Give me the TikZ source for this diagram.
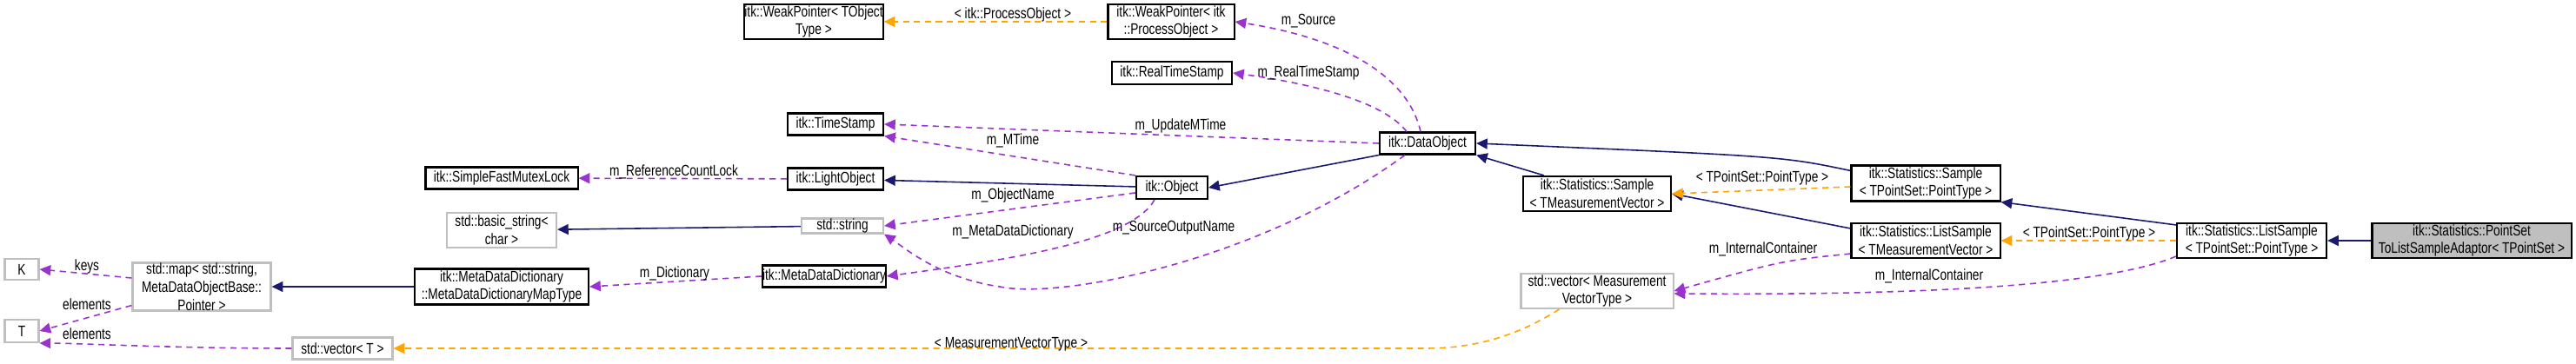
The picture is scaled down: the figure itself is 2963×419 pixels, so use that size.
\documentclass[tikz,border=0pt]{standalone}
\usepackage{fontspec}
\setmainfont{Liberation Sans}[FakeStretch=0.78]
\usetikzlibrary{arrows.meta, positioning, calc}
\definecolor{inhblue}{RGB}{25, 25, 112}
\definecolor{usepurple}{RGB}{154, 50, 205}
\definecolor{tmplorange}{RGB}{255, 165, 0}
\definecolor{extgray}{RGB}{191, 191, 191}
\tikzset{
  cls/.style={draw, line width=0.6pt, align=center, inner sep=0pt, font=\fontsize{5}{5.9}\selectfont},
  ext/.style={cls, draw=extgray},
  focus/.style={cls, fill=extgray},
  inh/.style={-{Triangle[length=3.6pt,width=3.4pt]}, inhblue, line width=0.45pt},
  use/.style={-{Triangle[length=3.6pt,width=3.4pt]}, usepurple, line width=0.45pt, dash pattern=on 2pt off 1.6pt},
  tmpl/.style={-{Triangle[length=3.6pt,width=3.4pt]}, tmplorange, line width=0.45pt, dash pattern=on 2pt off 1.6pt},
  lbl/.style={font=\fontsize{5}{5.9}\selectfont, inner sep=0pt}
}
\begin{document}
\begin{tikzpicture}[x=0.01cm, y=-0.01cm]
  \useasboundingbox (0,0) rectangle (2963,419);

  % classes
  \node[cls, minimum width=1.28cm, minimum height=0.4cm] (wpobj) at (936,25) {itk::WeakPointer< TObject\\Type >};
  \node[cls, minimum width=1.45cm, minimum height=0.4cm] (wpproc) at (1347,25) {itk::WeakPointer< itk\\::ProcessObject >};
  \node[cls, minimum width=1.38cm, minimum height=0.26cm] (rts) at (1348,84) {itk::RealTimeStamp};
  \node[cls, minimum width=1.1cm, minimum height=0.25cm] (ts) at (961,143) {itk::TimeStamp};
  \node[cls, minimum width=1.75cm, minimum height=0.25cm] (mutex) at (577,205) {itk::SimpleFastMutexLock};
  \node[cls, minimum width=1.1cm, minimum height=0.25cm] (light) at (961,206) {itk::LightObject};
  \node[cls, minimum width=0.82cm, minimum height=0.26cm] (obj) at (1348,216) {itk::Object};
  \node[cls, minimum width=1.1cm, minimum height=0.25cm] (dobj) at (1642,165) {itk::DataObject};
  \node[ext, minimum width=1.26cm, minimum height=0.4cm] (bstr) at (577,265) {std::basic\_string<\\char >};
  \node[ext, minimum width=0.94cm, minimum height=0.17cm] (str) at (969,260) {std::string};
  \node[ext, minimum width=1.59cm, minimum height=0.55cm] (map) at (232,330) {std::map< std::string,\\MetaDataObjectBase::\\Pointer >};
  \node[ext, minimum width=0.39cm, minimum height=0.24cm] (K) at (25,310) {K};
  \node[ext, minimum width=0.39cm, minimum height=0.26cm] (T) at (25,381) {T};
  \node[cls, minimum width=2.0cm, minimum height=0.41cm] (mapt) at (577,330) {itk::MetaDataDictionary\\::MetaDataDictionaryMapType};
  \node[cls, minimum width=1.35cm, minimum height=0.25cm] (mdd) at (948,318) {itk::MetaDataDictionary};
  \node[ext, minimum width=1.15cm, minimum height=0.25cm] (vecT) at (394,401) {std::vector< T >};
  \node[cls, minimum width=1.7cm, minimum height=0.4cm] (smv) at (1837,223) {itk::Statistics::Sample\\< TMeasurementVector >};
  \node[ext, minimum width=1.75cm, minimum height=0.4cm] (vmv) at (1837,335) {std::vector< Measurement\\VectorType >};
  \node[cls, minimum width=1.71cm, minimum height=0.41cm] (spt) at (2215,211) {itk::Statistics::Sample\\< TPointSet::PointType >};
  \node[cls, minimum width=1.71cm, minimum height=0.4cm] (lsmv) at (2215,277) {itk::Statistics::ListSample\\< TMeasurementVector >};
  \node[cls, minimum width=1.72cm, minimum height=0.4cm] (lspt) at (2590,277) {itk::Statistics::ListSample\\< TPointSet::PointType >};
  \node[focus, minimum width=2.29cm, minimum height=0.4cm] (adapt) at (2843,277) {itk::Statistics::PointSet\\ToListSampleAdaptor< TPointSet >};

  % inheritance
  \draw[inh] (obj) -- (light);
  \draw[inh] (dobj.south west) -- (obj.east);
  \draw[inh] (str) -- (bstr);
  \draw[inh] (mapt) -- (map);
  \draw[inh] (smv.north west) ++(25,0) -- (dobj.south east);
  \draw[inh] (spt.north west) ++(0,7) .. controls (2050,180) .. (dobj.east);
  \draw[inh] (lsmv.north west) ++(0,7) -- (smv.east);
  \draw[inh] (lspt.north west) ++(0,3) -- (spt.south east);
  \draw[inh] (adapt) -- (lspt);

  % template instances
  \draw[tmpl] (wpproc) -- (wpobj);
  \draw[tmpl] (spt.west) ++(0,4) -- (smv.east);
  \draw[tmpl] (lspt) -- (lsmv);
  \draw[tmpl] (vmv.south west) ++(45,0) .. controls (1740,390) and (1690,401) .. (1640,401) -- (vecT.east);

  % members
  \draw[use] (dobj.north) ++(-8,0) .. controls (1620,90) and (1550,45) .. (wpproc.east);
  \draw[use] (dobj.north west) ++(32,0) .. controls (1590,115) and (1500,95) .. (rts.east);
  \draw[use] (dobj.west) -- (ts.east);
  \draw[use] (obj.north west) -- (ts.south east);
  \draw[use] (light) -- (mutex);
  \draw[use] (obj.west) ++(0,6) -- (str.east);
  \draw[use] (obj.south west) ++(22,0) .. controls (1300,280) and (1150,300) .. (mdd.east);
  \draw[use] (dobj.south west) ++(30,0) .. controls (1450,300) and (1220,345) .. (1150,330)
    .. controls (1080,320) and (1040,285) .. (str.south east);
  \draw[use] (mdd.west) -- (mapt.east);
  \draw[use] (map.west) ++(0,-10) -- (K.east);
  \draw[use] (map.south west) ++(0,-7) -- (T.east);
  \draw[use] (vecT.west) .. controls (200,401) and (90,395) .. (T.south east);
  \draw[use] (lsmv.south west) ++(0,-6) .. controls (2050,300) .. (vmv.east);
  \draw[use] (lspt.south west) ++(0,-3) .. controls (2420,330) and (2200,340) .. ($(vmv.east)+(0,3)$);

  % edge labels
  \node[lbl] (l1) at (1165,17) {< itk::ProcessObject >};
  \node[lbl] (l2) at (1505,24) {m\_Source};
  \node[lbl] (l3) at (1505,84) {m\_RealTimeStamp};
  \node[lbl] (l4) at (1358,145) {m\_UpdateMTime};
  \node[lbl] (l5) at (1165,162) {m\_MTime};
  \node[lbl] (l6) at (775,198) {m\_ReferenceCountLock};
  \node[lbl] (l7) at (1165,225) {m\_ObjectName};
  \node[lbl] (l8) at (1165,267) {m\_MetaDataDictionary};
  \node[lbl] (l9) at (1350,262) {m\_SourceOutputName};
  \node[lbl] (l10) at (776,315) {m\_Dictionary};
  \node[lbl] (l11) at (100,307) {keys};
  \node[lbl] (l12) at (100,350) {elements};
  \node[lbl] (l13) at (100,384) {elements};
  \node[lbl] (l14) at (1163,396) {< MeasurementVectorType >};
  \node[lbl] (l15) at (2027,205) {< TPointSet::PointType >};
  \node[lbl] (l16) at (2028,287) {m\_InternalContainer};
  \node[lbl] (l17) at (2403,269) {< TPointSet::PointType >};
  \node[lbl] (l18) at (2219,318) {m\_InternalContainer};
\end{tikzpicture}
\end{document}
